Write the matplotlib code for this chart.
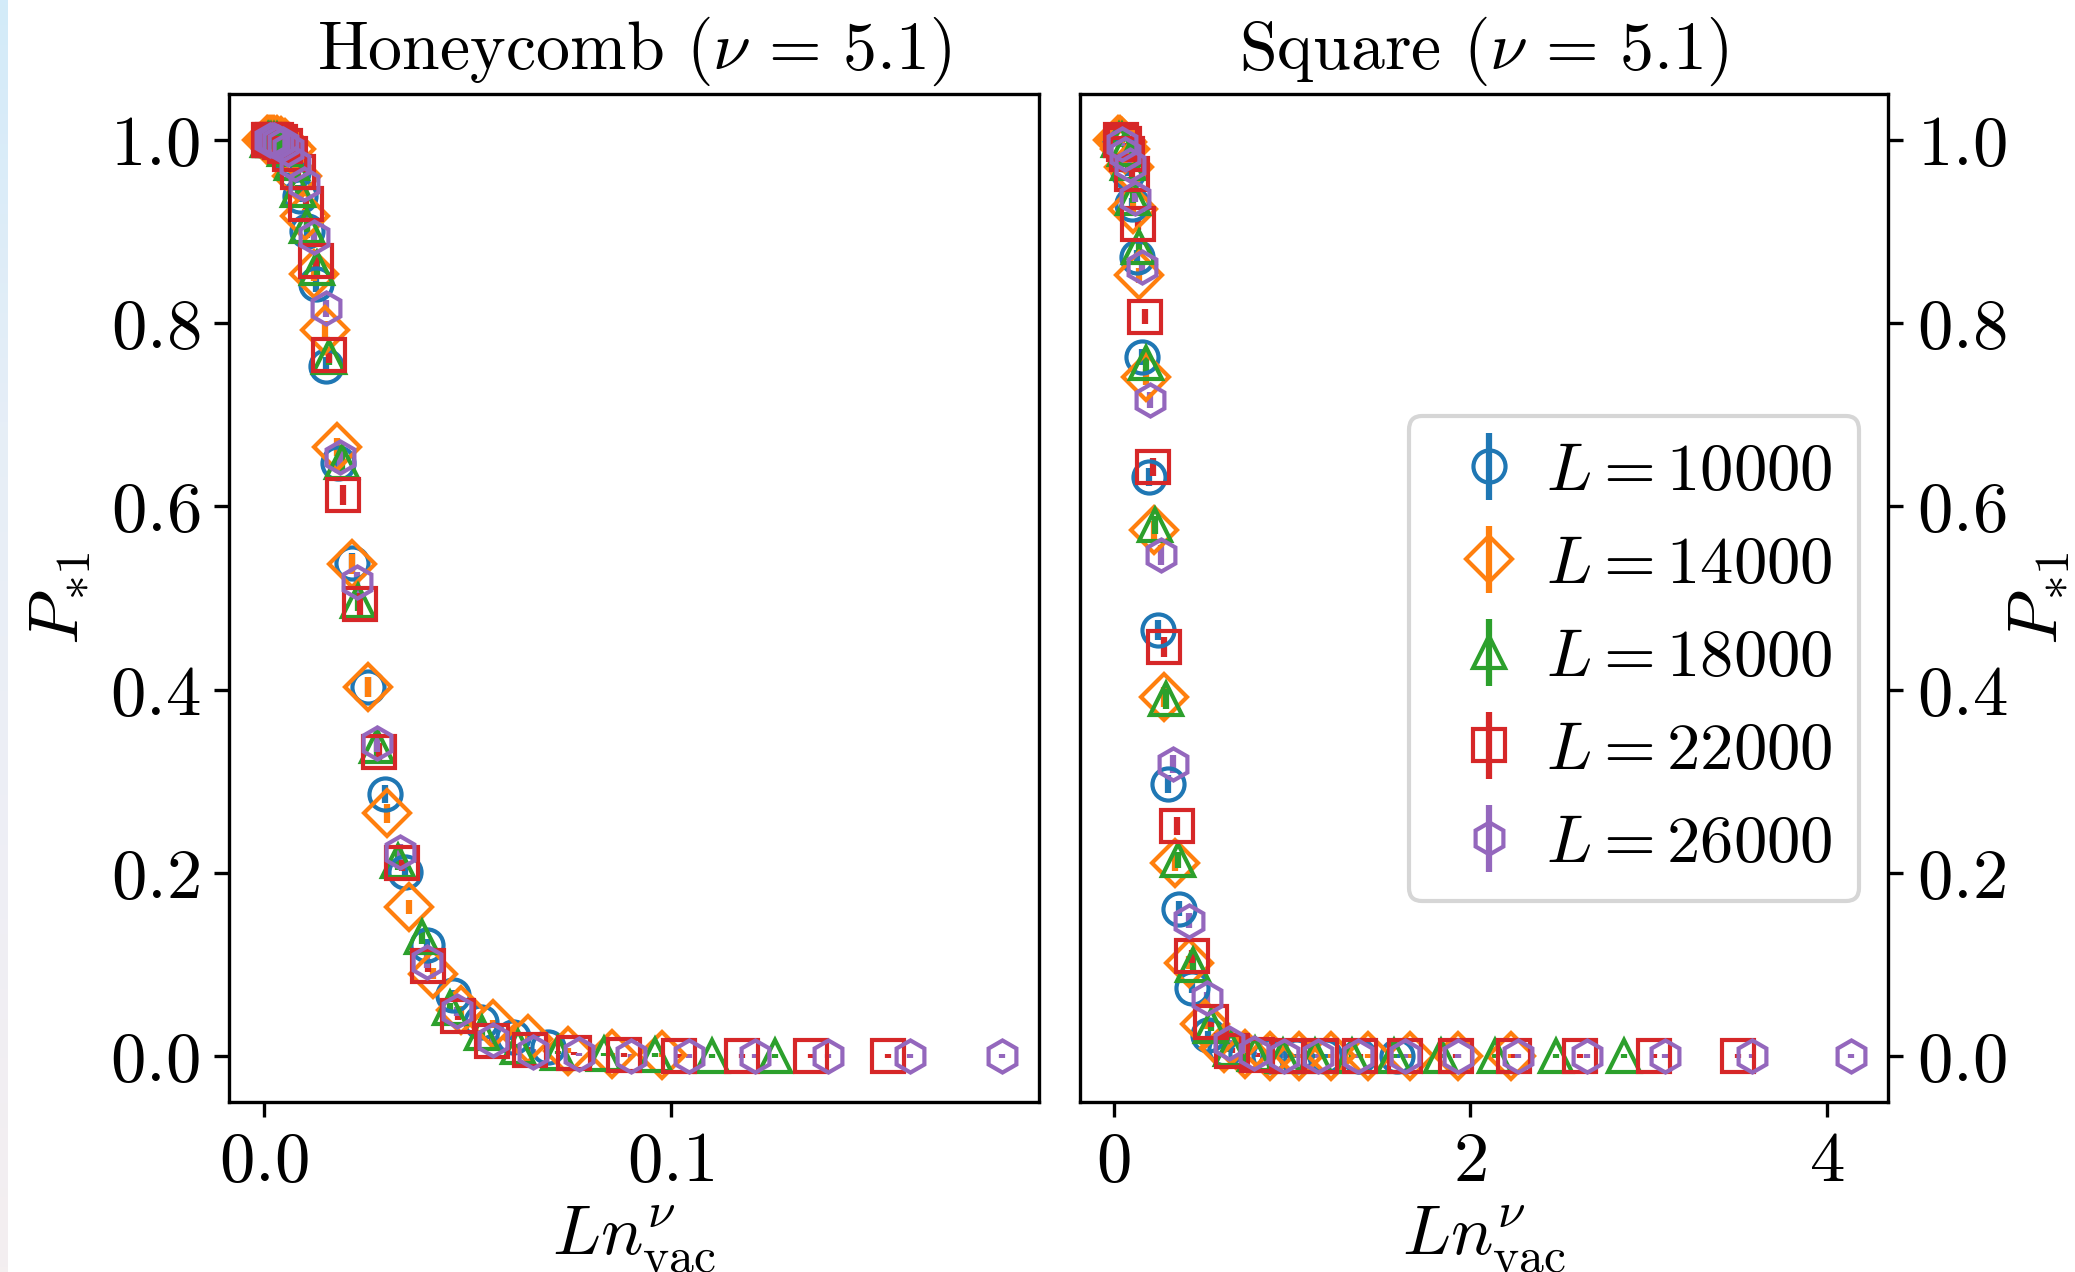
import numpy as np
import matplotlib
matplotlib.use('Agg')
import matplotlib.pyplot as plt
from matplotlib.colors import LinearSegmentedColormap

plt.rcParams['font.family'] = 'serif'
plt.rcParams['font.serif'] = ['cmr10']
plt.rcParams['mathtext.fontset'] = 'cm'
plt.rcParams['axes.formatter.use_mathtext'] = True
plt.rcParams['font.size'] = 17

# ==================== Data ====================
sizes = [10000, 14000, 18000, 22000, 26000]
colors = ['tab:blue', 'tab:orange', 'tab:green', 'tab:red', 'tab:purple']
markers = ['o', 'D', '^', 's', 'h']

# Honeycomb lattice: scaled variable L n_vac^nu, probability P_*1 and its error
hc_x = [
    [.0005, .0007, .0010, .0014, .0018, .0023, .0030, .0038, .0047, .0059, .0072, .0088, .0107,
     .0129, .0154, .0183, .0217, .0255, .0298, .0347, .0402, .0464, .0534, .0612, .0698],
    [.0007, .0010, .0014, .0019, .0025, .0032, .0042, .0053, .0066, .0082, .0101, .0124, .0150,
     .0180, .0216, .0257, .0303, .0357, .0417, .0486, .0563, .0650, .0748, .0856, .0978],
    [.0010, .0013, .0018, .0024, .0032, .0042, .0053, .0068, .0085, .0106, .0130, .0159, .0193,
     .0232, .0278, .0330, .0390, .0458, .0536, .0625, .0724, .0836, .0961, .1101, .1257],
    [.0012, .0016, .0022, .0030, .0039, .0051, .0065, .0083, .0104, .0129, .0159, .0194, .0236,
     .0284, .0339, .0403, .0477, .0560, .0655, .0763, .0885, .1022, .1175, .1346, .1536],
    [.0014, .0019, .0026, .0035, .0046, .0060, .0077, .0098, .0123, .0153, .0188, .0230, .0278,
     .0335, .0401, .0476, .0563, .0662, .0775, .0902, .1046, .1207, .1388, .1590, .1816],
]
hc_y = [
    [1.0, 1.0, 1.0, 1.0, 1.0, .999, .998, .995, .990, .980, .965, .939, .901,
     .843, .753, .647, .538, .403, .286, .201, .121, .067, .037, .021, .010],
    [1.0, 1.0, 1.0, 1.0, 1.0, 1.0, .999, .997, .990, .960, .917, .854, .793,
     .665, .537, .403, .265, .163, .090, .050, .035, .019, .006, .002, .001],
    [1.0, 1.0, 1.0, 1.0, 1.0, .998, .990, .975, .945, .906, .860, .763, .648,
     .497, .338, .213, .130, .053, .025, .010, .004, .002, .001, 0.0, 0.0],
    [1.0, 1.0, 1.0, 1.0, .998, .993, .985, .965, .930, .868, .765, .612, .494,
     .332, .211, .099, .044, .017, .007, .003, .001, 0.0, 0.0, 0.0, 0.0],
    [1.0, 1.0, 1.0, .998, .995, .990, .974, .952, .894, .816, .654, .517, .342,
     .223, .103, .049, .018, .005, .002, 0.0, 0.0, 0.0, 0.0, 0.0, 0.0],
]
hc_err = [
    [.001, .001, .001, .001, .001, .002, .002, .003, .004, .005, .006, .007, .008,
     .009, .010, .011, .011, .011, .010, .009, .007, .005, .004, .003, .003],
    [.001, .001, .001, .001, .001, .001, .002, .003, .004, .006, .007, .008, .009,
     .010, .011, .011, .010, .008, .006, .005, .004, .003, .003, .002, .002],
    [.001, .001, .001, .001, .001, .002, .003, .004, .006, .007, .008, .009, .010,
     .011, .011, .010, .008, .005, .004, .003, .002, .002, .002, .002, .002],
    [.001, .001, .001, .001, .002, .003, .004, .005, .006, .008, .009, .011, .012,
     .010, .009, .007, .005, .004, .003, .002, .002, .002, .002, .002, .002],
    [.001, .001, .001, .002, .003, .004, .005, .006, .008, .009, .011, .011, .010,
     .009, .007, .005, .004, .003, .002, .002, .002, .002, .002, .002, .002],
]

# Square lattice
sq_x = [
    [.018, .025, .035, .046, .061, .079, .102, .129, .162, .201, .248, .303, .367,
     .442, .528, .628, .742, .873, 1.021, 1.189, 1.379, 1.592],
    [.026, .036, .049, .065, .086, .111, .142, .181, .227, .282, .347, .424, .514,
     .619, .740, .879, 1.039, 1.222, 1.430, 1.665, 1.930, 2.229],
    [.033, .046, .062, .083, .110, .143, .183, .232, .292, .362, .447, .545, .661,
     .795, .951, 1.131, 1.336, 1.571, 1.838, 2.141, 2.481, 2.865],
    [.040, .056, .076, .102, .135, .174, .224, .284, .357, .442, .546, .666, .807,
     .972, 1.163, 1.382, 1.633, 1.921, 2.246, 2.616, 3.033, 3.502],
    [.048, .066, .090, .121, .159, .206, .265, .336, .421, .523, .645, .787, .954,
     1.149, 1.374, 1.633, 1.930, 2.270, 2.655, 3.092, 3.584, 4.139],
]
sq_y = [
    [1.0, 1.0, .998, .995, .985, .965, .930, .872, .763, .632, .465, .297, .161,
     .075, .023, .008, .002, 0.0, 0.0, 0.0, 0.0, 0.0],
    [1.0, 1.0, .998, .990, .970, .925, .852, .741, .574, .392, .211, .102, .035,
     .009, .002, 0.0, 0.0, 0.0, 0.0, 0.0, 0.0, 0.0],
    [1.0, 1.0, .990, .975, .937, .883, .756, .580, .390, .214, .100, .033, .008,
     .002, 0.0, 0.0, 0.0, 0.0, 0.0, 0.0, 0.0, 0.0],
    [1.0, .995, .985, .963, .908, .807, .643, .447, .251, .109, .037, .006, .001,
     0.0, 0.0, 0.0, 0.0, 0.0, 0.0, 0.0, 0.0, 0.0],
    [.995, .985, .972, .937, .861, .716, .547, .319, .148, .064, .014, .003, 0.0,
     0.0, 0.0, 0.0, 0.0, 0.0, 0.0, 0.0, 0.0, 0.0],
]
sq_err = [
    [.001, .001, .002, .003, .004, .005, .006, .008, .009, .010, .011, .010, .008,
     .006, .004, .003, .002, .002, .002, .002, .002, .002],
    [.001, .001, .002, .003, .004, .006, .008, .009, .010, .011, .009, .007, .005,
     .003, .002, .002, .002, .002, .002, .002, .002, .002],
    [.001, .002, .003, .004, .006, .007, .009, .010, .011, .009, .007, .005, .003,
     .002, .002, .002, .002, .002, .002, .002, .002, .002],
    [.001, .002, .003, .004, .006, .008, .010, .011, .010, .007, .005, .003, .002,
     .002, .002, .002, .002, .002, .002, .002, .002, .002],
    [.002, .003, .004, .005, .007, .009, .011, .010, .008, .006, .004, .002, .002,
     .002, .002, .002, .002, .002, .002, .002, .002, .002],
]

# ==================== Plot ====================
fig = plt.figure(figsize=(2075 / 300, 1272 / 300), dpi=300)

# faint coloured strip along the left edge
strip = fig.add_axes([0, 0, 8 / 2075, 1])
cmap = LinearSegmentedColormap.from_list('edge', ['#d3ebf9', '#e6eef7', '#eeeef5', '#f4eff0'])
strip.imshow(np.linspace(0, 1, 256)[:, None], aspect='auto', cmap=cmap)
strip.axis('off')

ax1 = fig.add_axes([0.1104, 0.1336, 0.3904, 0.7925])
ax2 = fig.add_axes([0.5205, 0.1336, 0.3894, 0.7925])

for i, L in enumerate(sizes):
    ax1.errorbar(hc_x[i], hc_y[i], yerr=hc_err[i], fmt=markers[i], mfc='none',
                 ms=7.7, color=colors[i], label=r'$L = %d$' % L)
    ax2.errorbar(sq_x[i], sq_y[i], yerr=sq_err[i], fmt=markers[i], mfc='none',
                 ms=7.7, color=colors[i], label=r'$L = %d$' % L)

ax1.set_title(r'Honeycomb ($\nu \,=\, 5.1$)', fontsize=16.3)
ax2.set_title(r'Square ($\nu \,=\, 5.1$)', fontsize=16.3)

ax1.set_xticks([0.0, 0.1])
ax2.set_xticks([0, 2, 4])
for ax in (ax1, ax2):
    ax.set_ylim(-0.05, 1.05)
    ax.set_yticks([0.0, 0.2, 0.4, 0.6, 0.8, 1.0])
    ax.set_xlabel(r'$Ln_{\mathrm{vac}}^{\nu}$', labelpad=2)
ax1.set_ylabel(r'$P_{*1}$')
ax2.set_ylabel(r'$P_{*1}$', labelpad=0)

ax2.yaxis.tick_right()
ax2.yaxis.set_label_position('right')

ax2.legend(loc='lower right', bbox_to_anchor=(0.964, 0.199), borderaxespad=0,
           fontsize=16, handlelength=1.6, handletextpad=0.05, labelspacing=0.5)

plt.savefig('out.png', dpi=300)
